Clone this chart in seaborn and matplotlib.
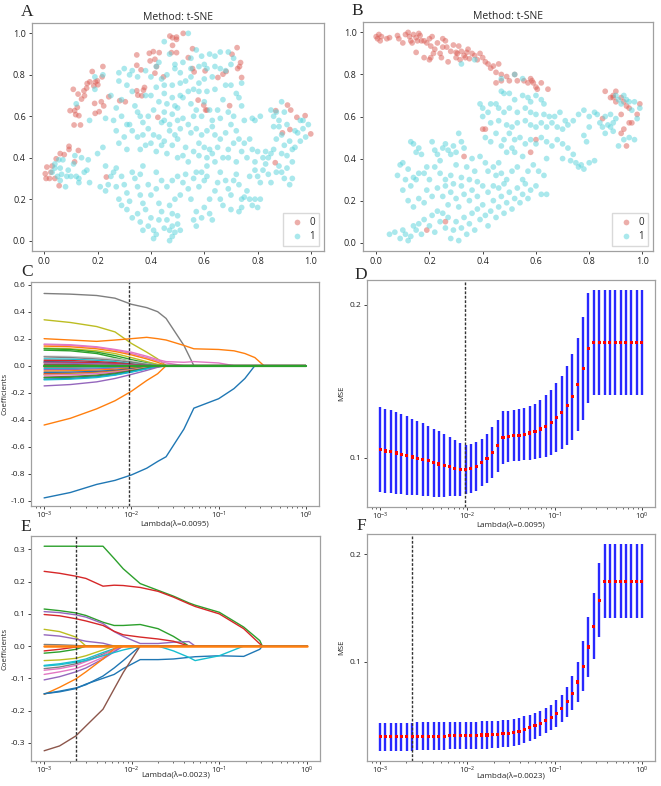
import matplotlib
matplotlib.use("Agg")
import matplotlib.pyplot as plt
from matplotlib.ticker import MultipleLocator
import numpy as np
import pandas as pd
import seaborn as sns

# ---------------------------------------------------------------- t-SNE data
A_CLASS0 = [
    (0.004, 0.323), (0.007, 0.30), (0.02, 0.30), (0.04, 0.30), (0.01, 0.355), (0.03, 0.36),
    (0.025, 0.33), (0.045, 0.395), (0.06, 0.42), (0.075, 0.415), (0.093, 0.455), (0.093, 0.44),
    (0.128, 0.435), (0.114, 0.38), (0.056, 0.265), (0.233, 0.307),
    (0.109, 0.73), (0.127, 0.707), (0.097, 0.627), (0.114, 0.627), (0.124, 0.643), (0.13, 0.603),
    (0.118, 0.608), (0.112, 0.558), (0.136, 0.558), (0.14, 0.683), (0.151, 0.699), (0.149, 0.723),
    (0.159, 0.736), (0.161, 0.758), (0.171, 0.766), (0.18, 0.816), (0.186, 0.747), (0.192, 0.766),
    (0.199, 0.771), (0.201, 0.752), (0.189, 0.662), (0.191, 0.614), (0.206, 0.622), (0.214, 0.67),
    (0.22, 0.84), (0.217, 0.79), (0.223, 0.65), (0.242, 0.694), (0.283, 0.675), (0.304, 0.67),
    (0.347, 0.896), (0.347, 0.846), (0.363, 0.824), (0.347, 0.723), (0.351, 0.702), (0.366, 0.699),
    (0.372, 0.726), (0.376, 0.739), (0.394, 0.904), (0.409, 0.912), (0.431, 0.907), (0.397, 0.867),
    (0.415, 0.875), (0.421, 0.84), (0.415, 0.808), (0.447, 0.79), (0.426, 0.595), (0.471, 0.987),
    (0.481, 0.979), (0.496, 0.982), (0.496, 0.971), (0.521, 1.0), (0.481, 0.942), (0.477, 0.907),
    (0.496, 0.907), (0.54, 0.883), (0.556, 0.926), (0.556, 0.83), (0.562, 0.814), (0.577, 0.678),
    (0.603, 0.819), (0.598, 0.654), (0.605, 0.63), (0.61, 0.63), (0.651, 0.787), (0.67, 0.803),
    (0.695, 0.651), (0.682, 0.816), (0.704, 0.899), (0.723, 0.931), (0.725, 0.83), (0.732, 0.84),
    (0.736, 0.859), (0.74, 0.787),
    (0.868, 0.627), (0.912, 0.654), (0.924, 0.63), (0.947, 0.595), (0.978, 0.603), (0.999, 0.515),
    (0.893, 0.52), (0.921, 0.536), (0.866, 0.376),
]
A_CLASS1 = [
    (0.03, 0.33), (0.04, 0.37), (0.05, 0.31), (0.06, 0.35), (0.07, 0.39), (0.065, 0.32), (0.085, 0.31),
    (0.09, 0.34), (0.1, 0.31), (0.11, 0.37), (0.115, 0.41), (0.12, 0.31), (0.13, 0.30), (0.13, 0.28),
    (0.14, 0.40), (0.15, 0.33), (0.16, 0.34), (0.165, 0.39), (0.17, 0.28), (0.2, 0.42), (0.21, 0.26),
    (0.22, 0.45), (0.23, 0.24), (0.06, 0.29), (0.08, 0.26), (0.04, 0.35), (0.055, 0.39),
    (0.12, 0.66), (0.17, 0.58), (0.19, 0.73), (0.19, 0.79), (0.22, 0.80), (0.25, 0.70), (0.23, 0.59),
    (0.26, 0.58), (0.27, 0.64), (0.28, 0.81), (0.28, 0.77), (0.29, 0.68), (0.30, 0.83), (0.31, 0.75),
    (0.32, 0.80), (0.33, 0.82), (0.33, 0.72), (0.34, 0.65), (0.35, 0.79), (0.35, 0.62), (0.36, 0.60),
    (0.38, 0.70), (0.38, 0.82), (0.37, 0.57), (0.29, 0.60), (0.31, 0.56), (0.27, 0.53),
    (0.45, 0.96), (0.54, 1.0), (0.47, 0.90), (0.43, 0.86), (0.49, 0.85), (0.52, 0.86), (0.55, 0.88),
    (0.57, 0.92), (0.59, 0.89), (0.62, 0.90), (0.64, 0.89), (0.66, 0.91), (0.69, 0.91), (0.71, 0.88),
    (0.70, 0.85), (0.64, 0.84), (0.61, 0.83), (0.6, 0.85), (0.58, 0.84), (0.55, 0.83), (0.51, 0.81),
    (0.49, 0.83), (0.46, 0.80), (0.44, 0.78), (0.40, 0.79), (0.42, 0.84), (0.45, 0.75), (0.48, 0.75),
    (0.51, 0.76), (0.53, 0.77), (0.55, 0.79), (0.58, 0.76), (0.60, 0.78), (0.63, 0.79), (0.66, 0.83),
    (0.68, 0.82), (0.68, 0.75), (0.70, 0.75), (0.72, 0.71), (0.74, 0.76), (0.64, 0.73), (0.61, 0.72),
    (0.58, 0.72), (0.56, 0.73), (0.54, 0.72), (0.51, 0.70), (0.48, 0.69), (0.45, 0.71), (0.42, 0.74),
    (0.40, 0.70), (0.43, 0.67), (0.46, 0.66), (0.49, 0.65), (0.50, 0.64), (0.52, 0.69), (0.55, 0.66),
    (0.57, 0.63), (0.60, 0.67), (0.62, 0.63), (0.65, 0.63), (0.67, 0.68), (0.69, 0.62), (0.71, 0.60),
    (0.73, 0.69), (0.74, 0.65), (0.75, 0.58), (0.66, 0.59), (0.63, 0.58), (0.59, 0.60), (0.56, 0.60),
    (0.52, 0.59), (0.48, 0.61), (0.45, 0.62), (0.41, 0.63), (0.39, 0.60), (0.44, 0.57),
    (0.41, 0.51), (0.43, 0.50), (0.45, 0.48), (0.47, 0.53), (0.49, 0.51), (0.51, 0.54), (0.50, 0.49),
    (0.53, 0.45), (0.48, 0.46), (0.46, 0.42), (0.44, 0.46), (0.42, 0.43), (0.40, 0.47), (0.38, 0.46),
    (0.39, 0.54), (0.37, 0.51), (0.35, 0.50), (0.33, 0.53), (0.31, 0.44), (0.28, 0.47), (0.30, 0.50),
    (0.32, 0.56), (0.36, 0.44), (0.45, 0.58), (0.47, 0.56), (0.50, 0.58), (0.54, 0.56), (0.55, 0.52),
    (0.57, 0.54), (0.59, 0.51), (0.61, 0.53), (0.63, 0.55), (0.64, 0.51), (0.66, 0.49), (0.68, 0.52),
    (0.70, 0.56), (0.72, 0.53), (0.58, 0.47), (0.60, 0.45), (0.62, 0.44), (0.56, 0.43), (0.52, 0.41),
    (0.50, 0.40), (0.54, 0.38), (0.58, 0.41), (0.61, 0.40), (0.63, 0.42), (0.65, 0.45), (0.67, 0.40),
    (0.69, 0.44), (0.71, 0.47), (0.73, 0.49), (0.74, 0.43), (0.75, 0.47), (0.77, 0.49), (0.78, 0.44),
    (0.80, 0.43), (0.76, 0.40), (0.79, 0.58), (0.78, 0.59),
    (0.27, 0.35), (0.29, 0.31), (0.30, 0.27), (0.31, 0.23), (0.28, 0.20), (0.32, 0.19), (0.33, 0.33),
    (0.34, 0.30), (0.36, 0.32), (0.37, 0.36), (0.35, 0.26), (0.36, 0.22), (0.37, 0.18), (0.35, 0.13),
    (0.33, 0.11), (0.31, 0.15), (0.29, 0.17), (0.39, 0.27), (0.40, 0.22), (0.38, 0.15), (0.40, 0.11),
    (0.39, 0.07), (0.37, 0.05), (0.36, 0.09), (0.41, 0.05), (0.42, 0.03), (0.41, 0.01), (0.43, 0.10),
    (0.44, 0.14), (0.43, 0.18), (0.42, 0.25), (0.44, 0.29), (0.42, 0.33), (0.45, 0.06), (0.46, 0.10),
    (0.47, 0.05), (0.48, 0.07), (0.47, 0.00), (0.48, 0.02), (0.49, 0.04), (0.50, 0.08), (0.51, 0.05),
    (0.50, 0.12), (0.48, 0.13), (0.47, 0.17), (0.49, 0.20), (0.51, 0.22), (0.46, 0.26), (0.48, 0.29),
    (0.50, 0.31), (0.53, 0.32), (0.52, 0.28), (0.54, 0.25), (0.56, 0.30), (0.57, 0.33), (0.59, 0.33),
    (0.60, 0.29), (0.61, 0.36), (0.58, 0.26), (0.55, 0.20), (0.57, 0.14), (0.56, 0.10), (0.57, 0.07),
    (0.59, 0.11), (0.60, 0.16), (0.62, 0.13), (0.63, 0.10), (0.62, 0.20), (0.64, 0.24), (0.65, 0.28),
    (0.66, 0.20), (0.67, 0.17), (0.66, 0.33), (0.68, 0.29), (0.69, 0.25), (0.70, 0.22), (0.70, 0.15),
    (0.71, 0.29), (0.72, 0.32), (0.73, 0.27), (0.73, 0.14), (0.74, 0.16), (0.74, 0.20), (0.75, 0.21),
    (0.76, 0.24), (0.77, 0.20), (0.78, 0.17), (0.79, 0.20), (0.77, 0.31), (0.79, 0.34), (0.80, 0.31),
    (0.79, 0.38), (0.72, 0.38), (0.69, 0.40), (0.64, 0.38), (0.61, 0.31), (0.24, 0.27), (0.25, 0.31),
    (0.26, 0.33), (0.23, 0.36), (0.27, 0.26),
    (0.81, 0.60), (0.82, 0.40), (0.83, 0.43), (0.84, 0.40), (0.85, 0.63), (0.86, 0.60), (0.87, 0.62),
    (0.88, 0.58), (0.89, 0.67), (0.90, 0.62), (0.86, 0.55), (0.87, 0.49), (0.88, 0.55), (0.89, 0.51),
    (0.91, 0.56), (0.90, 0.46), (0.92, 0.48), (0.93, 0.44), (0.94, 0.53), (0.95, 0.52), (0.96, 0.48),
    (0.97, 0.54), (0.97, 0.58), (0.98, 0.50), (0.99, 0.56), (0.86, 0.44), (0.85, 0.42), (0.83, 0.37),
    (0.82, 0.34), (0.84, 0.32), (0.85, 0.28), (0.87, 0.33), (0.88, 0.36), (0.89, 0.33), (0.90, 0.30),
    (0.91, 0.35), (0.92, 0.27), (0.93, 0.30), (0.93, 0.38), (0.94, 0.45), (0.89, 0.42), (0.91, 0.41),
    (0.81, 0.28), (0.81, 0.20), (0.80, 0.16), (0.96, 0.58),
]

B_CLASS0 = [
    (0.0, 0.98), (0.005, 0.97), (0.01, 0.99), (0.015, 0.96), (0.02, 0.98), (0.04, 0.97), (0.05, 0.975),
    (0.08, 0.985), (0.085, 0.97), (0.1, 0.95), (0.11, 0.99), (0.12, 1.0), (0.125, 0.98), (0.13, 0.96),
    (0.135, 0.95), (0.14, 0.99), (0.15, 0.975), (0.155, 0.96), (0.16, 0.995), (0.165, 0.985),
    (0.15, 0.905), (0.17, 0.96), (0.18, 0.88), (0.19, 0.95), (0.2, 0.97), (0.205, 0.935), (0.21, 0.98),
    (0.2, 0.87), (0.205, 0.88), (0.215, 0.9), (0.22, 0.92), (0.23, 0.95), (0.24, 0.9), (0.245, 0.88),
    (0.25, 0.97), (0.26, 0.96), (0.265, 0.93), (0.27, 0.86), (0.28, 0.91), (0.29, 0.94), (0.3, 0.88),
    (0.305, 0.9), (0.31, 0.935), (0.315, 0.87), (0.32, 0.91), (0.33, 0.89), (0.335, 0.88), (0.34, 0.905),
    (0.345, 0.92), (0.35, 0.875), (0.36, 0.9), (0.37, 0.89), (0.38, 0.87), (0.39, 0.9), (0.4, 0.88),
    (0.41, 0.86), (0.42, 0.85), (0.43, 0.83), (0.44, 0.84), (0.45, 0.81), (0.46, 0.85), (0.47, 0.80),
    (0.45, 0.76), (0.47, 0.77), (0.49, 0.79), (0.5, 0.77), (0.52, 0.80), (0.53, 0.77), (0.555, 0.77),
    (0.57, 0.76), (0.58, 0.78), (0.59, 0.76), (0.6, 0.74), (0.62, 0.76), (0.605, 0.73), (0.645, 0.73),
    (0.585, 0.77), (0.3, 0.905), (0.25, 0.93), (0.18, 0.96),
    (0.4, 0.54), (0.41, 0.54), (0.6, 0.49), (0.58, 0.43), (0.33, 0.41), (0.19, 0.06), (0.26, 0.10),
    (0.86, 0.72), (0.88, 0.69), (0.89, 0.70), (0.9, 0.72), (0.9, 0.67), (0.92, 0.69), (0.93, 0.67),
    (0.94, 0.65), (0.95, 0.64), (0.96, 0.57), (0.95, 0.57), (0.98, 0.61), (0.99, 0.66), (0.93, 0.54),
    (0.92, 0.52), (0.94, 0.46), (0.85, 0.59), (0.89, 0.69), (0.92, 0.61),
]
B_CLASS1 = [
    (0.32, 0.85), (0.37, 0.87), (0.47, 0.78), (0.52, 0.80), (0.55, 0.78), (0.47, 0.72), (0.48, 0.71),
    (0.45, 0.66), (0.5, 0.71), (0.52, 0.68), (0.55, 0.7), (0.57, 0.69), (0.58, 0.67), (0.6, 0.7),
    (0.62, 0.68), (0.63, 0.66), (0.39, 0.66), (0.4, 0.64), (0.42, 0.62), (0.43, 0.66), (0.46, 0.64),
    (0.48, 0.62), (0.5, 0.64), (0.53, 0.62), (0.56, 0.64), (0.58, 0.62), (0.6, 0.61), (0.63, 0.61),
    (0.65, 0.6), (0.67, 0.6), (0.69, 0.62), (0.71, 0.58), (0.4, 0.60), (0.43, 0.57), (0.46, 0.58),
    (0.49, 0.56), (0.51, 0.55), (0.53, 0.57), (0.56, 0.58), (0.58, 0.56), (0.6, 0.55), (0.62, 0.57),
    (0.64, 0.55), (0.66, 0.57), (0.68, 0.55), (0.7, 0.54), (0.72, 0.56), (0.74, 0.58), (0.41, 0.50),
    (0.43, 0.48), (0.45, 0.52), (0.48, 0.49), (0.5, 0.52), (0.52, 0.49), (0.54, 0.5), (0.56, 0.47),
    (0.58, 0.49), (0.6, 0.47), (0.62, 0.5), (0.64, 0.48), (0.66, 0.46), (0.68, 0.49), (0.7, 0.47),
    (0.72, 0.45), (0.74, 0.42), (0.47, 0.46), (0.51, 0.45),
    (0.76, 0.61), (0.78, 0.63), (0.80, 0.60), (0.82, 0.62), (0.84, 0.57), (0.85, 0.55), (0.86, 0.52),
    (0.87, 0.56), (0.88, 0.55), (0.88, 0.61), (0.89, 0.57), (0.89, 0.53), (0.9, 0.70), (0.91, 0.68),
    (0.92, 0.66), (0.93, 0.70), (0.94, 0.68), (0.95, 0.67), (0.96, 0.63), (0.97, 0.67), (0.98, 0.59),
    (0.99, 0.64), (0.9, 0.59), (0.91, 0.46), (0.93, 0.49), (0.95, 0.50), (0.97, 0.49), (0.8, 0.55),
    (0.78, 0.51), (0.79, 0.48), (0.75, 0.38), (0.77, 0.37), (0.78, 0.35), (0.8, 0.38), (0.82, 0.39),
    (0.76, 0.36), (0.73, 0.39), (0.7, 0.40), (0.83, 0.61), (0.86, 0.6),
    (0.08, 0.32), (0.09, 0.37), (0.1, 0.38), (0.11, 0.30), (0.12, 0.35), (0.13, 0.48), (0.14, 0.47),
    (0.15, 0.43), (0.16, 0.45), (0.17, 0.42), (0.13, 0.27), (0.14, 0.31), (0.15, 0.30), (0.16, 0.33),
    (0.18, 0.33), (0.19, 0.36), (0.2, 0.30), (0.21, 0.48), (0.22, 0.44), (0.23, 0.42), (0.24, 0.39),
    (0.25, 0.45), (0.26, 0.47), (0.27, 0.44), (0.28, 0.42), (0.29, 0.46), (0.3, 0.43), (0.31, 0.52),
    (0.32, 0.48), (0.33, 0.45), (0.22, 0.36), (0.24, 0.33), (0.26, 0.30), (0.28, 0.32), (0.3, 0.37),
    (0.32, 0.31), (0.34, 0.36), (0.35, 0.30), (0.37, 0.34), (0.38, 0.29), (0.36, 0.40), (0.39, 0.41),
    (0.41, 0.38), (0.42, 0.34), (0.44, 0.36), (0.46, 0.38), (0.45, 0.32), (0.47, 0.33), (0.49, 0.30),
    (0.51, 0.34), (0.53, 0.36), (0.55, 0.30), (0.57, 0.34), (0.59, 0.37), (0.61, 0.34), (0.63, 0.32),
    (0.64, 0.40), (0.55, 0.41), (0.52, 0.43), (0.49, 0.43),
    (0.05, 0.04), (0.07, 0.05), (0.09, 0.02), (0.1, 0.06), (0.11, 0.04), (0.12, 0.01), (0.13, 0.03),
    (0.14, 0.08), (0.15, 0.06), (0.16, 0.09), (0.17, 0.04), (0.18, 0.11), (0.2, 0.08), (0.21, 0.13),
    (0.22, 0.05), (0.23, 0.15), (0.24, 0.10), (0.25, 0.14), (0.26, 0.07), (0.27, 0.12), (0.28, 0.02),
    (0.29, 0.06), (0.3, 0.10), (0.31, 0.01), (0.32, 0.07), (0.33, 0.12), (0.34, 0.04), (0.35, 0.09),
    (0.36, 0.14), (0.37, 0.06), (0.38, 0.16), (0.39, 0.11), (0.4, 0.18), (0.41, 0.13), (0.42, 0.08),
    (0.43, 0.15), (0.44, 0.20), (0.45, 0.12), (0.46, 0.17), (0.47, 0.22), (0.48, 0.14), (0.49, 0.19),
    (0.5, 0.24), (0.51, 0.16), (0.52, 0.21), (0.53, 0.26), (0.54, 0.19), (0.55, 0.23), (0.56, 0.28),
    (0.57, 0.21), (0.58, 0.25), (0.6, 0.27), (0.62, 0.23), (0.64, 0.23),
    (0.1, 0.25), (0.12, 0.20), (0.14, 0.17), (0.16, 0.21), (0.18, 0.19), (0.19, 0.25), (0.21, 0.22),
    (0.23, 0.26), (0.25, 0.22), (0.27, 0.18), (0.28, 0.24), (0.3, 0.21), (0.31, 0.17), (0.33, 0.23),
    (0.35, 0.20), (0.36, 0.25), (0.38, 0.22), (0.4, 0.27), (0.42, 0.24), (0.44, 0.27), (0.46, 0.26),
    (0.48, 0.28), (0.29, 0.28), (0.26, 0.27), (0.32, 0.27),
]

# ---------------------------------------------------------------- LASSO data
LAMBDAS = [
    0.001, 0.0011514, 0.0013257, 0.0015264, 0.0017575, 0.0020236, 0.00233, 0.0026827,
    0.0030888, 0.0035565, 0.0040949, 0.0047149, 0.0054287, 0.0062506, 0.0071969, 0.0082864,
    0.009541, 0.010985, 0.012649, 0.014563, 0.016768, 0.019307, 0.02223, 0.025595,
    0.029471, 0.033932, 0.039069, 0.044984, 0.051795, 0.059636, 0.068665, 0.07906,
    0.09103, 0.10481, 0.12068, 0.13895, 0.15999, 0.18421, 0.2121, 0.24421,
    0.28118, 0.32375, 0.37276, 0.42919, 0.49417, 0.56899, 0.65513, 0.75431, 0.86851, 1.0,
]
D_MSE = [
    0.1052, 0.1043, 0.1037, 0.1030, 0.1022, 0.1013, 0.1004, 0.0996, 0.0987, 0.0978,
    0.0967, 0.0958, 0.0950, 0.0939, 0.0930, 0.0924, 0.0922, 0.0928, 0.0943, 0.0967,
    0.0993, 0.1033, 0.1078, 0.1130, 0.1139, 0.1143, 0.1147, 0.1154, 0.1161, 0.1170,
    0.1187, 0.1206, 0.1230, 0.1261, 0.1296, 0.1339, 0.1398, 0.1478, 0.1583, 0.1717,
    0.1752, 0.1752, 0.1752, 0.1752, 0.1752, 0.1752, 0.1752, 0.1752, 0.1752, 0.1752,
]
D_ERR = [
    0.0278, 0.0275, 0.0272, 0.0268, 0.0261, 0.0256, 0.0248, 0.0242, 0.0238, 0.0232,
    0.0223, 0.0214, 0.0205, 0.0193, 0.0182, 0.0173, 0.0163, 0.0161, 0.0160, 0.0155,
    0.0161, 0.0164, 0.0171, 0.0172, 0.0165, 0.0168, 0.0170, 0.0173, 0.0177, 0.0182,
    0.0190, 0.0201, 0.0210, 0.0225, 0.0237, 0.0258, 0.0280, 0.0302, 0.0335, 0.0362,
    0.0343, 0.0343, 0.0343, 0.0343, 0.0343, 0.0343, 0.0343, 0.0343, 0.0343, 0.0343,
]
F_MSE = [
    0.0301, 0.0301, 0.0301, 0.0301, 0.0301, 0.0301, 0.0301, 0.0303, 0.0303, 0.0303,
    0.0306, 0.0306, 0.0306, 0.0310, 0.0310, 0.0310, 0.0313, 0.0313, 0.0313, 0.0316,
    0.0316, 0.0320, 0.0323, 0.0326, 0.0329, 0.0338, 0.0350, 0.0366, 0.0384, 0.0403,
    0.0424, 0.0449, 0.0480, 0.0516, 0.0563, 0.0624, 0.0704, 0.0809, 0.0957, 0.1135,
    0.1329, 0.1569, 0.1748, 0.1748, 0.1748, 0.1748, 0.1748, 0.1748, 0.1748, 0.1748,
]
F_ERR = [
    0.0131, 0.0131, 0.0131, 0.0131, 0.0131, 0.0131, 0.0131, 0.0130, 0.0130, 0.0130,
    0.0129, 0.0129, 0.0128, 0.0128, 0.0127, 0.0127, 0.0127, 0.0126, 0.0126, 0.0126,
    0.0126, 0.0126, 0.0125, 0.0125, 0.0123, 0.0126, 0.0126, 0.0125, 0.0120, 0.0120,
    0.0115, 0.0115, 0.0115, 0.0123, 0.0123, 0.0143, 0.0159, 0.0188, 0.0231, 0.0275,
    0.0308, 0.0345, 0.0343, 0.0343, 0.0343, 0.0343, 0.0343, 0.0343, 0.0343, 0.0343,
]
D_BEST = 0.0095
F_BEST = 0.0023

# coefficient paths: values at the knots below, zero once a feature drops out
C_LAMBDA = [0.001, 0.002, 0.004, 0.0065, 0.01, 0.015, 0.02, 0.025,
            0.04, 0.052, 0.1, 0.15, 0.2, 0.26, 0.33, 1.0]
C_PATHS = [
    ("#7f7f7f", [0.535, 0.53, 0.52, 0.50, 0.455, 0.43, 0.40, 0.35, 0.15, 0.0]),
    ("#bcbd22", [0.34, 0.32, 0.29, 0.25, 0.165, 0.10, 0.05, 0.0]),
    ("#ff7f0e", [0.20, 0.19, 0.18, 0.19, 0.20, 0.21, 0.20, 0.19, 0.15, 0.125, 0.12, 0.11, 0.09, 0.06, 0.0]),
    ("#ff7f0e", [-0.44, -0.39, -0.32, -0.26, -0.19, -0.11, -0.06, 0.0]),
    ("#1f77b4", [-0.98, -0.94, -0.88, -0.85, -0.81, -0.76, -0.71, -0.675, -0.47, -0.315, -0.245, -0.17, -0.095, 0.0]),
    ("#e377c2", [0.16, 0.155, 0.14, 0.12, 0.10, 0.07, 0.045, 0.03, 0.025, 0.03, 0.02, 0.0]),
    ("#e377c2", [0.155, 0.15, 0.135, 0.115, 0.09, 0.06, 0.035, 0.02, 0.0]),
    ("#ff7f0e", [0.145, 0.14, 0.125, 0.105, 0.08, 0.05, 0.025, 0.0]),
    ("#bcbd22", [0.13, 0.125, 0.11, 0.09, 0.06, 0.03, 0.01, 0.0]),
    ("#2ca02c", [0.125, 0.12, 0.10, 0.075, 0.045, 0.02, 0.0]),
    ("#2ca02c", [0.115, 0.11, 0.09, 0.06, 0.03, 0.01, 0.0]),
    ("#c7c7c7", [0.07, 0.068, 0.06, 0.05, 0.035, 0.015, 0.0]),
    ("#7f7f7f", [0.065, 0.06, 0.05, 0.04, 0.025, 0.01, 0.0]),
    ("#17becf", [0.05, 0.048, 0.04, 0.03, 0.015, 0.0]),
    ("#d62728", [0.04, 0.038, 0.03, 0.022, 0.012, 0.0]),
    ("#1f77b4", [0.03, 0.028, 0.022, 0.015, 0.008, 0.0]),
    ("#d62728", [0.025, 0.024, 0.02, 0.015, 0.008, 0.0]),
    ("#9467bd", [0.02, 0.018, 0.014, 0.01, 0.004, 0.0]),
    ("#8c564b", [0.01, 0.008, 0.005, 0.002, 0.0]),
    ("#d62728", [-0.01, -0.01, -0.008, -0.005, -0.002, 0.0]),
    ("#17becf", [-0.02, -0.02, -0.017, -0.012, -0.006, 0.0]),
    ("#9467bd", [-0.03, -0.028, -0.024, -0.018, -0.01, -0.003, 0.0]),
    ("#ff7f0e", [-0.04, -0.038, -0.033, -0.026, -0.016, -0.006, 0.0]),
    ("#1f77b4", [-0.05, -0.048, -0.042, -0.034, -0.022, -0.01, 0.0]),
    ("#d62728", [-0.06, -0.058, -0.05, -0.04, -0.028, -0.012, -0.003, 0.0]),
    ("#bcbd22", [-0.065, -0.062, -0.054, -0.043, -0.03, -0.012, 0.0]),
    ("#e377c2", [-0.07, -0.067, -0.058, -0.047, -0.033, -0.015, -0.004, 0.0]),
    ("#8c564b", [-0.085, -0.08, -0.07, -0.055, -0.037, -0.018, -0.005, 0.0]),
    ("#2ca02c", [-0.09, -0.086, -0.075, -0.06, -0.04, -0.02, -0.006, 0.0]),
    ("#1f77b4", [-0.10, -0.095, -0.083, -0.067, -0.045, -0.022, -0.007, 0.0]),
    ("#17becf", [-0.105, -0.1, -0.088, -0.07, -0.048, -0.024, -0.008, 0.0]),
    ("#9467bd", [-0.15, -0.14, -0.12, -0.095, -0.065, -0.035, -0.012, 0.0]),
    ("#2ca02c", [0.0]),
]
E_LAMBDA = [0.001, 0.0015, 0.0023, 0.003, 0.0047, 0.0063, 0.008, 0.0125, 0.02,
            0.03, 0.045, 0.053, 0.1, 0.19, 0.29, 0.31, 1.0]
E_PATHS = [
    ("#2ca02c", [0.31, 0.31, 0.31, 0.31, 0.31, 0.272, 0.24, 0.194, 0.173, 0.155, 0.134, 0.127, 0.105, 0.059, 0.017, 0.0]),
    ("#d62728", [0.232, 0.226, 0.217, 0.21, 0.186, 0.189, 0.188, 0.182, 0.17, 0.152, 0.131, 0.123, 0.10, 0.054, 0.007, 0.0]),
    ("#2ca02c", [0.115, 0.11, 0.103, 0.095, 0.074, 0.064, 0.064, 0.067, 0.054, 0.03, 0.0]),
    ("#9467bd", [0.107, 0.104, 0.097, 0.09, 0.07, 0.045, 0.03, 0.008, 0.008, 0.012, 0.014, 0.0]),
    ("#d62728", [0.098, 0.094, 0.085, 0.078, 0.064, 0.046, 0.035, 0.028, 0.022, 0.015, 0.0]),
    ("#bcbd22", [0.052, 0.045, 0.028, 0.0]),
    ("#9467bd", [0.035, 0.031, 0.022, 0.015, 0.009, 0.0]),
    ("#7f7f7f", [0.005, 0.004, 0.002, 0.0]),
    ("#d62728", [-0.015, -0.01, -0.003, 0.0]),
    ("#2ca02c", [-0.022, -0.018, -0.01, 0.0]),
    ("#bcbd22", [-0.045, -0.043, -0.038, -0.03, -0.012, 0.0]),
    ("#17becf", [-0.06, -0.055, -0.047, -0.04, -0.02, -0.008, 0.0]),
    ("#7f7f7f", [-0.07, -0.065, -0.055, -0.045, -0.025, -0.01, 0.0]),
    ("#e377c2", [-0.075, -0.07, -0.06, -0.048, -0.028, -0.01, 0.0]),
    ("#e377c2", [-0.088, -0.08, -0.07, -0.058, -0.035, -0.015, 0.0]),
    ("#9467bd", [-0.105, -0.095, -0.08, -0.068, -0.04, -0.018, 0.0]),
    ("#ff7f0e", [-0.15, -0.128, -0.102, -0.08, -0.04, -0.008, 0.0]),
    ("#1f77b4", [-0.148, -0.14, -0.13, -0.12, -0.093, -0.068, -0.045, 0.0]),
    ("#1f77b4", [-0.148, -0.142, -0.132, -0.118, -0.1, -0.088, -0.07, -0.042, -0.042, -0.04, -0.035, -0.033, -0.03, -0.032, -0.01, 0.0]),
    ("#17becf", [-0.062, -0.058, -0.05, -0.045, -0.03, -0.02, -0.012, 0.0, 0.0, -0.015, -0.035, -0.045, -0.03, 0.0]),
    ("#8c564b", [-0.325, -0.31, -0.279, -0.248, -0.196, -0.133, -0.082, 0.0]),
    ("#ff7f0e", [0.0]),
]

PANEL_LETTERS = ["A", "B", "C", "D", "E", "F"]


def style_axes(ax, size=6.5, xpad=2, length=2.5):
    for spine in ax.spines.values():
        spine.set_color("#a0a0a0")
        spine.set_linewidth(0.9)
    ax.tick_params(labelsize=size, length=length, width=0.6, pad=2, colors="#222222")
    ax.tick_params(axis="x", pad=xpad)
    ax.tick_params(which="minor", length=1.5, width=0.5)


def tsne_panel(ax, class0, class1):
    df = pd.DataFrame(
        [(x, y, "0") for x, y in class0] + [(x, y, "1") for x, y in class1],
        columns=["x", "y", "label"],
    )
    sns.scatterplot(
        data=df, x="x", y="y", hue="label", hue_order=["0", "1"],
        palette=sns.color_palette("hls", 2), s=17, alpha=0.5, linewidth=0, ax=ax,
    )
    handles, labels = ax.get_legend_handles_labels()
    ax.legend(handles, labels, loc="lower right", fontsize=7, frameon=True,
              edgecolor="#d0d0d0", handletextpad=0.3, borderpad=0.4,
              labelspacing=0.3, markerscale=1.0, fancybox=False)
    ax.set_title("Method: t-SNE", fontsize=7.5, pad=2)
    ax.set_xlabel("")
    ax.set_ylabel("")
    ax.xaxis.set_major_locator(MultipleLocator(0.2))
    ax.yaxis.set_major_locator(MultipleLocator(0.2))
    style_axes(ax)


def lambda_labels(ax, best, ylabel, xlabel_y, ylabel_x, ylabel_size):
    ax.set_xscale("log")
    ax.axvline(best, color="#333333", lw=1.0, ls=(0, (2, 1.2)))
    ax.set_xlabel(f"Lambda(λ={best})", fontsize=5.8)
    ax.xaxis.set_label_coords(0.5, xlabel_y)
    ax.set_ylabel(ylabel, fontsize=ylabel_size)
    ax.yaxis.set_label_coords(ylabel_x, 0.5)
    style_axes(ax, size=6, xpad=0.8, length=2)
    ax.tick_params(axis="x", labelsize=5.5)


def path_panel(ax, grid, paths, best, zero_width, xlabel_y):
    rows = []
    palette = {}
    for i, (color, values) in enumerate(paths):
        name = f"f{i:02d}"
        palette[name] = color
        full = list(values) + [0.0] * (len(grid) - len(values))
        rows += [(name, lam, coef) for lam, coef in zip(grid, full)]
    df = pd.DataFrame(rows, columns=["feature", "lam", "coef"])
    last = df["feature"].iloc[-1]
    sns.lineplot(data=df[df["feature"] != last], x="lam", y="coef", hue="feature",
                 palette=palette, legend=False, linewidth=1.0, estimator=None, ax=ax)
    sns.lineplot(data=df[df["feature"] == last], x="lam", y="coef", color=palette[last],
                 legend=False, linewidth=zero_width, estimator=None, ax=ax)
    lambda_labels(ax, best, "Coefficients", xlabel_y, -0.078, 5.6)


def mse_panel(ax, mse, err, best, xlabel_y):
    ax.errorbar(LAMBDAS, mse, yerr=err, fmt="none", ecolor="#1010ff",
                elinewidth=1.7, capsize=0, alpha=0.9)
    sns.scatterplot(x=LAMBDAS, y=mse, color="red", marker="s", s=5,
                    edgecolor="none", zorder=3, ax=ax)
    ax.yaxis.set_major_locator(MultipleLocator(0.1))
    lambda_labels(ax, best, "MSE", xlabel_y, -0.075, 5.5)


def main():
    sns.set_style("ticks")
    plt.rcParams["font.family"] = ["Open Sans", "DejaVu Sans"]
    plt.rcParams["axes.unicode_minus"] = False

    W, H = 661, 786
    fig = plt.figure(figsize=(W / 100, H / 100), dpi=100)

    def add(left, right, top, bottom):
        return fig.add_axes([left / W, 1 - bottom / H, (right - left) / W, (bottom - top) / H])

    ax_a = add(32, 324, 23, 251)
    ax_b = add(363, 653, 22, 251)
    ax_c = add(31, 319, 282, 506)
    ax_d = add(367, 655, 280, 507)
    ax_e = add(31, 320, 536, 761)
    ax_f = add(367, 655, 534, 761)

    tsne_panel(ax_a, A_CLASS0, A_CLASS1)
    tsne_panel(ax_b, B_CLASS0, B_CLASS1)
    path_panel(ax_c, C_LAMBDA, C_PATHS, D_BEST, 1.6, -0.062)
    ax_c.set_ylim(-1.04, 0.62)
    ax_c.yaxis.set_major_locator(MultipleLocator(0.2))
    mse_panel(ax_d, D_MSE, D_ERR, D_BEST, -0.062)
    path_panel(ax_e, E_LAMBDA, E_PATHS, F_BEST, 1.8, -0.046)
    ax_e.yaxis.set_major_locator(MultipleLocator(0.1))
    mse_panel(ax_f, F_MSE, F_ERR, F_BEST, -0.05)

    letter_pos = [(21, 16), (351, 15), (21, 276), (354, 279), (20, 531), (356, 530)]
    for letter, (x, y) in zip(PANEL_LETTERS, letter_pos):
        fig.text(x / W, 1 - y / H, letter, fontsize=12.5,
                 family=["Liberation Serif", "DejaVu Serif"], va="baseline", ha="left")

    fig.savefig("out.png", dpi=100)
    plt.close(fig)


if __name__ == "__main__":
    main()
